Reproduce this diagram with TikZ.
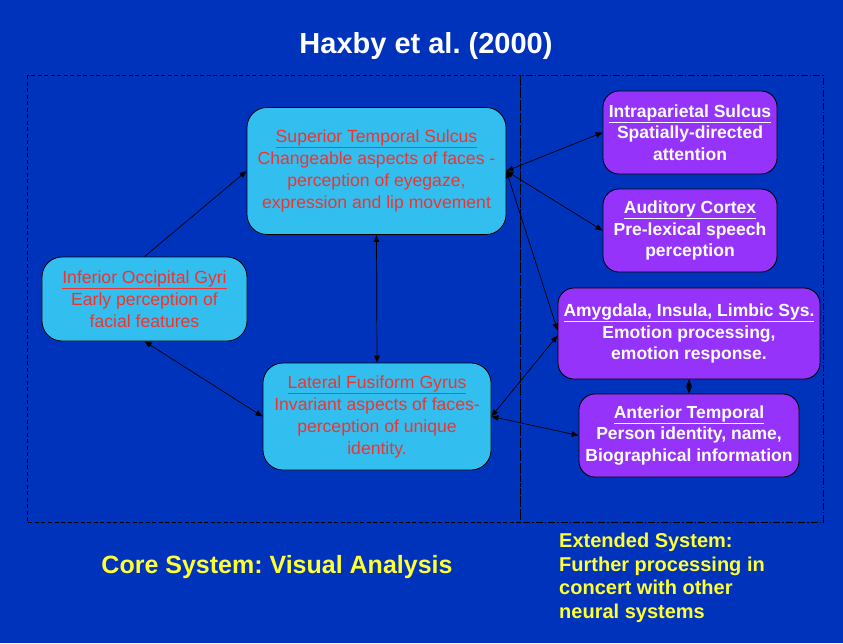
\documentclass[tikz,border=0pt]{standalone}
\usepackage{fontspec}
\setmainfont{Liberation Sans}
\usetikzlibrary{arrows.meta,calc}
\definecolor{bgblue}{RGB}{0,51,187}
\definecolor{cyanbox}{RGB}{51,190,240}
\definecolor{purplebox}{RGB}{150,51,250}
\definecolor{redtext}{RGB}{240,52,45}
\definecolor{yellowtext}{RGB}{255,255,51}
\frenchspacing
\begin{document}
\begin{tikzpicture}[x=1pt,y=-1pt,
  corebox/.style={draw=black, line width=0.8pt, fill=cyanbox, rounded corners=20pt,
    text=redtext, align=center, inner sep=0pt, font=\fontsize{17.6}{22}\selectfont},
  extbox/.style={draw=black, line width=0.8pt, fill=purplebox, rounded corners=16pt,
    text=white, align=center, inner sep=0pt, font=\bfseries\fontsize{17.5}{21.5}\selectfont},
  tip/.tip={Triangle[length=7pt,width=5.5pt]},
  link/.style={draw=black, line width=0.7pt, tip-tip},
  onelink/.style={draw=black, line width=0.7pt, -tip},
  coreframe/.style={draw=black, line width=0.8pt, dash pattern=on 4pt off 2.5pt},
  extframe/.style={draw=black, line width=1pt, dash pattern=on 7pt off 2pt on 1.5pt off 2pt},
  label/.style={text=yellowtext, inner sep=0pt, font=\bfseries}
]
\fill[bgblue] (0,0) rectangle (843,643);
\useasboundingbox (0,0) rectangle (843,643);

\node[text=white, font=\bfseries\fontsize{29}{34}\selectfont, inner sep=0pt] (title) at (426,46) {Haxby et al. (2000)};

\draw[coreframe] (27,75) rectangle (520,522);
\draw[extframe] (520,75) rectangle (823,522);

\node[corebox, minimum width=259pt, minimum height=127pt] (sts) at (376.5,171)
  {\underline{Superior Temporal Sulcus}\\Changeable aspects of faces -\\perception of eyegaze,\\expression and lip movement};
\node[corebox, minimum width=205pt, minimum height=84pt] (iog) at (144.5,299)
  {\underline{Inferior Occipital Gyri}\\Early perception of\\facial features};
\node[corebox, minimum width=228pt, minimum height=107pt] (lfg) at (377,416.5)
  {\underline{Lateral Fusiform Gyrus}\\Invariant aspects of faces-\\perception of unique\\identity.};

\node[extbox, minimum width=174pt, minimum height=83pt] (ips) at (690,132.5)
  {\underline{Intraparietal Sulcus}\\Spatially-directed\\attention};
\node[extbox, minimum width=174pt, minimum height=83pt] (aud) at (690,230.5)
  {\underline{Auditory Cortex}\\Pre-lexical speech\\perception};
\node[extbox, minimum width=262pt, minimum height=91pt] (amy) at (689,333.5)
  {\underline{Amygdala, Insula, Limbic Sys.}\\Emotion processing,\\emotion response.};
\node[extbox, minimum width=220pt, minimum height=83pt] (ant) at (689,435.5)
  {\underline{Anterior Temporal}\\Person identity, name,\\Biographical information};

\draw[onelink] (iog.north) -- (sts.west);
\draw[link] (iog.south) -- (lfg.west);
\draw[link] (sts.south) -- (lfg.north);
\draw[link] (sts.east) -- (ips.west);
\draw[link] (sts.east) -- (aud.west);
\draw[link] (sts.east) -- ($(amy.west)+(0,-3)$);
\draw[link] (lfg.east) -- ($(amy.west)+(0,2)$);
\draw[link] (lfg.east) -- (ant.west);
\draw[link] (amy.south) -- (ant.north);

\node[label, font=\bfseries\fontsize{25}{30}\selectfont] (core) at (277,567) {Core System: Visual Analysis};
\node[label, anchor=west, align=left, font=\bfseries\fontsize{20}{23.5}\selectfont] (ext) at (559,578)
  {Extended System:\\Further processing in\\concert with other\\neural systems};
\end{tikzpicture}
\end{document}
